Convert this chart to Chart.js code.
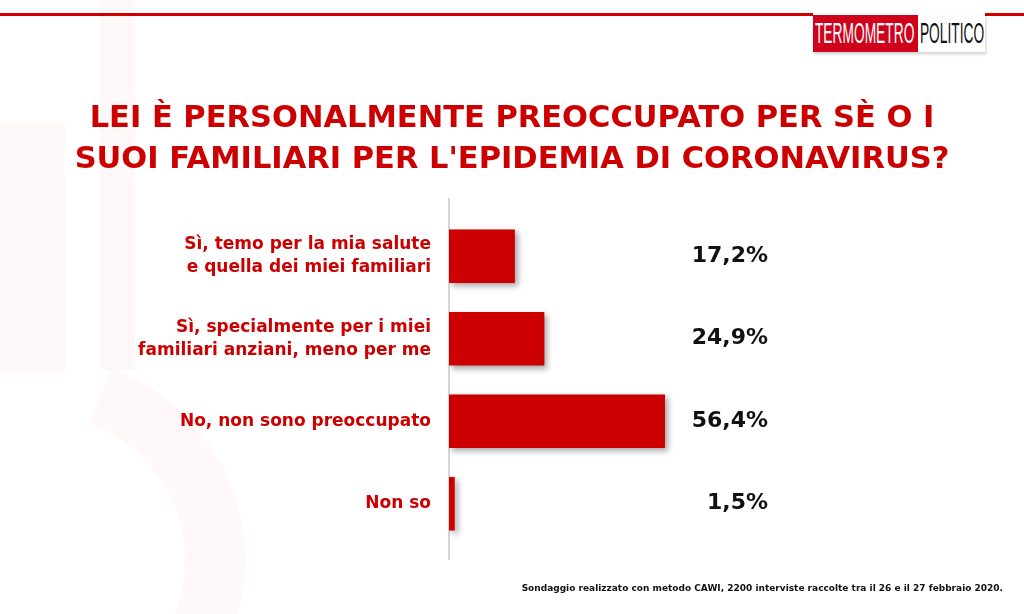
<!DOCTYPE html>
<html>
<head>
<meta charset="utf-8">
<script src="https://cdn.jsdelivr.net/npm/chart.js@4.4.0/dist/chart.umd.min.js"></script>
<style>
  html, body { margin: 0; padding: 0; background: #fff; }
  body { width: 1024px; height: 614px; position: relative; overflow: hidden; font-family: "DejaVu Sans", sans-serif; }
  #wm { position: absolute; left: 0; top: 0; }
  .topline { position: absolute; top: 13px; height: 3px; background: #cc0000; }
  #logo { position: absolute; left: 813px; top: 15px; height: 37px; width: 172px; box-shadow: 1px 2px 3px rgba(0,0,0,0.2); font-family: "Liberation Sans", sans-serif; font-size: 29px; }
  #logo .box { position: absolute; top: 0; height: 37px; overflow: hidden; }
  #logo .a { left: 0; width: 105px; background: #d0021b; color: #fff; }
  #logo .b { left: 105px; width: 67px; background: #fff; color: #111; }
  #logo .t { display: inline-block; line-height: 37px; transform: scaleX(0.475); transform-origin: 0 50%; white-space: nowrap; padding-left: 4px; }
  #title { position: absolute; left: 0; width: 1024px; top: 96px; text-align: center; color: #cc0000; font-weight: bold; font-size: 30.5px; line-height: 41px; }
  #note { position: absolute; right: 21px; top: 583px; font-size: 9px; font-weight: bold; color: #111; }
  #chart { position: absolute; left: 0; top: 0; }
</style>
</head>
<body>
<canvas id="wm" width="1024" height="614"></canvas>
<div class="topline" style="left:0;width:813px"></div>
<div class="topline" style="left:985px;width:39px"></div>
<div id="logo"><div class="box a"><span class="t">TERMOMETRO</span></div><div class="box b"><span class="t">POLITICO</span></div></div>
<div id="title">LEI È PERSONALMENTE PREOCCUPATO PER SÈ O I<br>SUOI FAMILIARI PER L'EPIDEMIA DI CORONAVIRUS?</div>
<canvas id="chart" width="1024" height="614"></canvas>
<div id="note">Sondaggio realizzato con metodo CAWI, 2200 interviste raccolte tra il 26 e il 27 febbraio 2020.</div>
<script>
const categories = [
  ["Sì, temo per la mia salute", "e quella dei miei familiari"],
  ["Sì, specialmente per i miei", "familiari anziani, meno per me"],
  "No, non sono preoccupato",
  "Non so"
];
const values = [17.2, 24.9, 56.4, 1.5];
const valueLabels = ["17,2%", "24,9%", "56,4%", "1,5%"];

// faint watermark
const w = document.getElementById('wm').getContext('2d');
w.fillStyle = 'rgba(204,0,0,0.028)';
w.fillRect(100, 0, 35, 370);
w.fillRect(0, 122, 65, 250);
w.beginPath();
w.arc(40, 560, 205, -Math.PI / 2 + 0.35, Math.PI / 2, false);
w.arc(40, 560, 145, Math.PI / 2, -Math.PI / 2 + 0.35, true);
w.closePath();
w.fill();

const extras = {
  id: 'extras',
  beforeDatasetsDraw(chart) {
    const c = chart.ctx, a = chart.chartArea;
    c.save();
    c.strokeStyle = '#c8c8c8';
    c.lineWidth = 1.5;
    c.beginPath();
    c.moveTo(a.left, a.top - 17);
    c.lineTo(a.left, a.bottom + 15);
    c.stroke();
    c.restore();
    c.save();
    c.shadowColor = 'rgba(0,0,0,0.35)';
    c.shadowBlur = 6;
    c.shadowOffsetX = 3;
    c.shadowOffsetY = 3;
  },
  afterDatasetsDraw(chart) {
    const c = chart.ctx;
    c.restore();
    const meta = chart.getDatasetMeta(0);
    c.save();
    c.fillStyle = '#111';
    c.font = 'bold 22px "DejaVu Sans", sans-serif';
    c.textAlign = 'right';
    c.textBaseline = 'middle';
    meta.data.forEach((bar, i) => {
      c.fillText(valueLabels[i], chart.chartArea.left + 319, bar.y);
    });
    c.restore();
  }
};

new Chart(document.getElementById('chart'), {
  type: 'bar',
  data: {
    labels: categories,
    datasets: [{
      data: values,
      backgroundColor: '#cc0000',
      borderWidth: 0,
      barPercentage: 0.65,
      categoryPercentage: 1
    }]
  },
  options: {
    indexAxis: 'y',
    responsive: false,
    animation: false,
    layout: { padding: { top: 215, bottom: 69, right: 192, left: 0 } },
    plugins: { legend: { display: false }, tooltip: { enabled: false } },
    scales: {
      x: { display: false, min: 0, max: 100 },
      y: {
        grid: { display: false },
        border: { display: false },
        afterFit: s => { s.width = 449; },
        ticks: {
          color: '#cc0000',
          padding: 10,
          font: { family: 'DejaVu Sans', weight: 'bold', size: 17, lineHeight: 1.35 }
        }
      }
    }
  },
  plugins: [extras]
});
</script>
</body>
</html>
